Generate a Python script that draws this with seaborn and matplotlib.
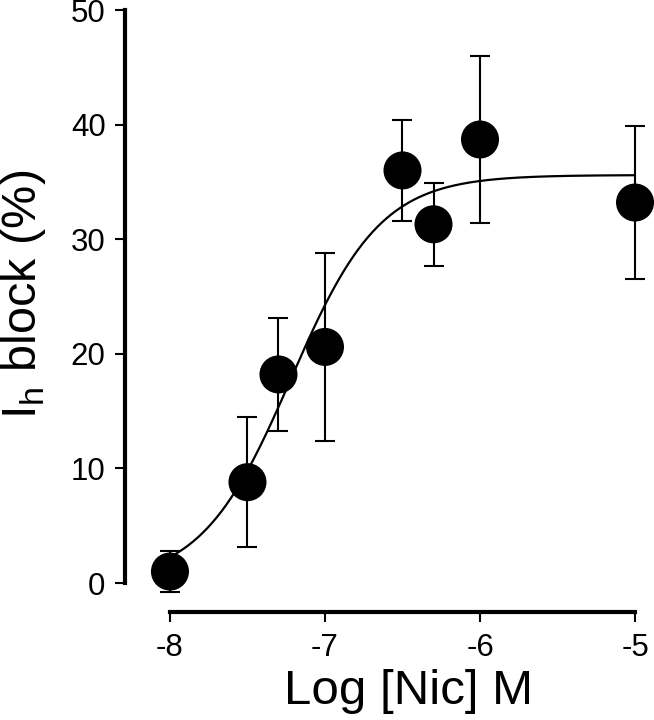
import numpy as np
import pandas as pd
import matplotlib
matplotlib.use("Agg")
import matplotlib.pyplot as plt
import seaborn as sns

# data
log_nic = [-8.0, -7.5, -7.3, -7.0, -6.5, -6.3, -6.0, -5.0]
block = [1.0, 8.8, 18.2, 20.6, 36.0, 31.3, 38.7, 33.2]
sem = [1.8, 5.7, 4.9, 8.2, 4.4, 3.6, 7.3, 6.7]

# Hill fit parameters (estimated from the drawn curve)
fit_bottom = 0.0
fit_top = 35.6
fit_logec50 = -7.22
fit_slope = 1.5

sns.set_style("ticks")
plt.rcParams["font.family"] = ["Liberation Sans", "DejaVu Sans"]
plt.rcParams["mathtext.fontset"] = "custom"
plt.rcParams["mathtext.rm"] = "Liberation Sans"

df = pd.DataFrame({"log_nic": log_nic, "block": block, "sem": sem})

xfit = np.linspace(-8, -5, 300)
yfit = fit_bottom + (fit_top - fit_bottom) / (1 + 10 ** ((fit_logec50 - xfit) * fit_slope))
df_fit = pd.DataFrame({"x": xfit, "y": yfit})

fig = plt.figure(figsize=(6.54, 7.2), dpi=100)
ax = fig.add_axes([125 / 654, 108 / 720, 515 / 654, 602 / 720])

ax.errorbar(df["log_nic"], df["block"], yerr=df["sem"], fmt="none",
            ecolor="black", elinewidth=1.5, capsize=7, capthick=1.5,
            clip_on=False, zorder=2)
sns.lineplot(data=df_fit, x="x", y="y", color="black", linewidth=1.6,
             ax=ax, zorder=3)
sns.scatterplot(data=df, x="log_nic", y="block", color="black", s=750,
                edgecolor="none", ax=ax, zorder=4, clip_on=False)

ax.set_xlim(-8.29, -4.968)
ax.set_ylim(-2.53, 50)
ax.set_xticks([-8, -7, -6, -5])
ax.set_xticklabels(["-8", "-7", "-6", "-5"])
ax.set_yticks([0, 10, 20, 30, 40, 50])

sns.despine(ax=ax)
ax.spines["left"].set_bounds(0, 50)
ax.spines["bottom"].set_bounds(-8, -5)
for side in ["left", "bottom"]:
    ax.spines[side].set_linewidth(3)
    ax.spines[side].set_color("black")
ax.tick_params(axis="both", direction="out", length=7, width=1.5,
               labelsize=22.5, color="black", labelcolor="black")
ax.tick_params(axis="x", pad=8)
ax.tick_params(axis="y", pad=7)

ax.set_xlabel("Log [Nic] M", fontsize=35.5, color="black")
ax.set_ylabel(r"I$_\mathregular{h}$ block (%)", fontsize=35, color="black")
ax.xaxis.set_label_coords(0.551, -0.094)
ax.yaxis.set_label_coords(-0.1495, 0.528)

fig.savefig("out.png", dpi=100)
